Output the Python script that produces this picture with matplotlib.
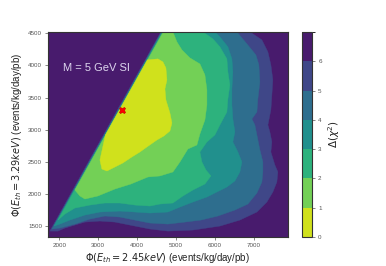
import matplotlib
matplotlib.use("Agg")
import matplotlib.pyplot as plt
from matplotlib.colors import ListedColormap, BoundaryNorm
from matplotlib.cm import ScalarMappable
from matplotlib.patches import Polygon
import numpy as np

plt.rcParams['font.family'] = ['Liberation Sans', 'DejaVu Sans']
plt.rcParams['mathtext.fontset'] = 'dejavusans'

# Contour levels of Delta chi^2
levels = [0, 1, 2, 3, 4, 5, 6, 7]
cbar_ticks = [0, 1, 2, 3, 4, 5, 6]

# Region boundaries (x = Phi(2.45 keV), y = Phi(3.29 keV)) for Delta chi^2 < level
region_lt6 = [(4712, 4630), (1760, 1427), (1966, 1427), (2146, 1474), (2402, 1521), (2659, 1567),
              (3045, 1583), (3430, 1567), (3944, 1505), (4329, 1459), (4792, 1427), (5434, 1443),
              (6127, 1505), (6640, 1598), (7077, 1723), (7333, 1878), (7487, 2034), (7590, 2189),
              (7616, 2345), (7539, 2453), (7436, 2655), (7462, 2811), (7410, 2967), (7359, 3075),
              (7436, 3308), (7462, 3542), (7487, 3775), (7436, 4008), (7359, 4210), (7205, 4396),
              (6897, 4521), (6717, 4630)]
region_lt5 = [(4730, 4630), (1815, 1459), (2017, 1474), (2402, 1536), (2788, 1614), (3173, 1661),
              (3558, 1645), (3944, 1598), (4329, 1552), (4792, 1536), (5228, 1567), (5639, 1598),
              (6075, 1661), (6512, 1754), (6846, 1847), (7077, 2018), (7205, 2189), (7231, 2345),
              (7231, 2500), (7154, 2687), (7077, 2920), (7025, 3075), (6948, 3168), (7077, 3277),
              (7102, 3479), (7154, 3743), (7128, 4008), (7051, 4163), (6820, 4334), (6563, 4521),
              (6408, 4630)]
region_lt4 = [(4745, 4630), (1865, 1505), (2017, 1536), (2274, 1598), (2659, 1676), (3045, 1723),
              (3558, 1738), (3944, 1723), (4329, 1707), (4792, 1723), (5100, 1800), (5434, 1878),
              (5793, 1956), (6050, 2034), (6306, 2111), (6512, 2205), (6640, 2345), (6692, 2500),
              (6589, 2655), (6460, 2811), (6512, 2967), (6460, 3168), (6435, 3386), (6435, 3635),
              (6460, 3899), (6435, 4101), (6332, 4288), (6127, 4443), (5998, 4521), (5870, 4630)]
region_lt3 = [(4763, 4630), (1969, 1598), (2146, 1692), (2402, 1785), (2788, 1831), (3173, 1863),
              (3558, 1863), (3944, 1831), (4329, 1816), (4586, 1847), (4920, 1863), (5177, 1972),
              (5434, 2065), (5742, 2158), (5896, 2283), (5768, 2376), (5665, 2500), (5613, 2655),
              (5793, 2811), (5998, 2920), (6127, 3075), (6306, 3277), (6332, 3479), (6383, 3697),
              (6332, 3899), (6306, 4101), (6127, 4288), (5947, 4412), (5691, 4521), (5562, 4630)]
region_lt2 = [(4776, 4630), (2402, 2065), (2531, 1972), (2659, 1925), (2993, 1972), (3430, 2080),
              (3841, 2158), (4278, 2267), (4586, 2283), (4920, 2345), (5100, 2500), (5305, 2702),
              (5536, 2764), (5613, 2935), (5742, 3153), (5793, 3386), (5793, 3619), (5742, 3852),
              (5613, 4023), (5356, 4117), (5151, 4241), (5023, 4365), (4920, 4521), (4843, 4630)]
region_lt1 = [(4263, 4085), (4535, 4101), (4663, 4054), (4740, 3961), (4766, 3775), (4715, 3635),
              (4740, 3464), (4843, 3261), (4895, 3106), (4843, 2982), (4689, 2904), (4509, 2842),
              (4252, 2733), (4072, 2655), (3866, 2578), (3635, 2485), (3430, 2422), (3225, 2360),
              (3096, 2391), (3045, 2531), (3096, 2670), (3186, 2920)]

best_fit_x = [3600]
best_fit_y = [3310]

label_text = "M = 5 GeV SI"

# colours of each band as matplotlib contourf would give with viridis_r
cmap_base = plt.get_cmap('viridis_r')
band_colors = [cmap_base((levels[i] + 0.5) / levels[-1]) for i in range(len(levels) - 1)]
cmap = ListedColormap(band_colors)
norm = BoundaryNorm(levels, cmap.N)

fig = plt.figure(figsize=(3.86, 2.66), dpi=100)
ax = fig.add_axes([0.125, 0.109, 0.620, 0.771])
cax = fig.add_axes([0.782, 0.109, 0.026, 0.771])

ax.set_facecolor(band_colors[6])
regions = [region_lt6, region_lt5, region_lt4, region_lt3, region_lt2, region_lt1]
for k, reg in zip([5, 4, 3, 2, 1, 0], regions):
    ax.add_patch(Polygon(reg, closed=True, facecolor=band_colors[k],
                         edgecolor=band_colors[k], linewidth=0.3))

ax.plot(best_fit_x, best_fit_y, marker='X', color='red', markersize=4.5,
        markeredgecolor='#c00000', markeredgewidth=0.4, linestyle='none')

ax.text(2090, 3966, label_text, color='#ddd6ee', fontsize=8, va='center', ha='left')

ax.set_xlim(1718, 7865)
ax.set_ylim(1335, 4520)
ax.set_xticks([2000, 3000, 4000, 5000, 6000, 7000])
ax.set_yticks([1500, 2000, 2500, 3000, 3500, 4000, 4500])

ax.set_xlabel(r'$\Phi(E_{th} = 2.45 keV)$ (events/kg/day/pb)', fontsize=7, color='#222222', labelpad=2)
ax.set_ylabel(r'$\Phi(E_{th} = 3.29 keV)$ (events/kg/day/pb)', fontsize=7, color='#222222', labelpad=3)

for a in (ax, cax):
    a.tick_params(labelsize=4.5, length=2.5, width=0.5, colors='#555555', pad=2)
    for s in a.spines.values():
        s.set_linewidth(0.8)
        s.set_color('#333333')

sm = ScalarMappable(norm=norm, cmap=cmap)
cb = fig.colorbar(sm, cax=cax, ticks=cbar_ticks)
cb.outline.set_linewidth(0.8)
cb.outline.set_edgecolor('#333333')
cb.set_label(r'$\Delta(\chi^2)$', fontsize=7.5, color='#222222', labelpad=3)
cax.tick_params(labelsize=4.5, length=2.5, width=0.5, colors='#555555', pad=2)

fig.savefig('out.png', dpi=100)
